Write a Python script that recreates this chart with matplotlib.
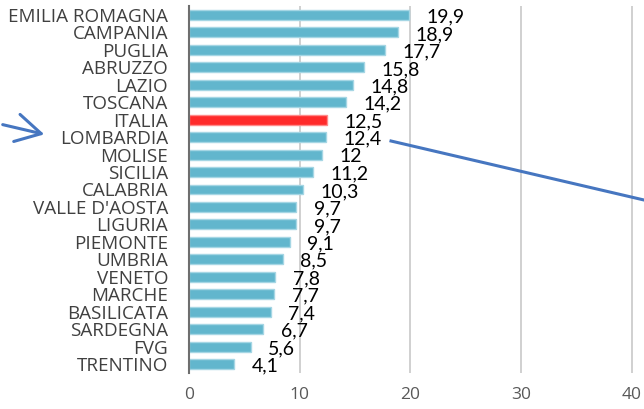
import matplotlib.pyplot as plt
from matplotlib.lines import Line2D
from matplotlib.patches import FancyArrowPatch

regions = ["EMILIA ROMAGNA", "CAMPANIA", "PUGLIA", "ABRUZZO", "LAZIO", "TOSCANA",
           "ITALIA", "LOMBARDIA", "MOLISE", "SICILIA", "CALABRIA", "VALLE D'AOSTA",
           "LIGURIA", "PIEMONTE", "UMBRIA", "VENETO", "MARCHE", "BASILICATA",
           "SARDEGNA", "FVG", "TRENTINO"]
values = [19.9, 18.9, 17.7, 15.8, 14.8, 14.2, 12.5, 12.4, 12, 11.2, 10.3, 9.7,
          9.7, 9.1, 8.5, 7.8, 7.7, 7.4, 6.7, 5.6, 4.1]
ticks = [0, 10, 20, 30, 40]

W, H = 644, 409
fig = plt.figure(figsize=(W / 100, H / 100), dpi=100)
ax = fig.add_axes([189 / W, 1 - 372.7 / H, 1 - 189 / W, (372.7 - 6.3) / H])

colors = ['#FF2A2A' if r == 'ITALIA' else '#62B6CD' for r in regions]
edges = ['#FF8A8A' if r == 'ITALIA' else '#A5D6E4' for r in regions]
ypos = list(range(len(regions)))
ax.barh(ypos, values, height=0.57, color=colors, edgecolor=edges, linewidth=1, zorder=3)
ax.set_ylim(len(regions) - 0.5, -0.5)
ax.set_xlim(0, 41.1)

for y, v in zip(ypos, values):
    txt = ('%g' % v).replace('.', ',')
    ax.annotate(txt, (v, y), xytext=(12.5, -1.5), textcoords='offset points',
                va='center', ha='left', fontsize=14, family='Lato', color='black',
                zorder=4)

ax.set_yticks(ypos)
ax.set_yticklabels(regions, family='Open Sans', fontsize=13.6, color='#404040')
ax.set_xticks(ticks)
ax.set_xticklabels([str(t) for t in ticks], family='Open Sans', fontsize=12.5, color='#595959')
ax.tick_params(axis='y', length=0, pad=15)
ax.tick_params(axis='x', length=0, pad=10)

ax.grid(axis='x', color='#C8C8C8', linewidth=1.2, zorder=0)
for s in ['top', 'right', 'bottom']:
    ax.spines[s].set_visible(False)
ax.spines['left'].set_color('#6E6E6E')
ax.spines['left'].set_linewidth(1.5)
ax.spines['left'].set_zorder(5)

# arrow pointing at LOMBARDIA
fig.patches.append(FancyArrowPatch(
    (0 / W, 1 - 124 / H), (47 / W, 1 - 135 / H), transform=fig.transFigure,
    arrowstyle='->,head_length=0.9,head_width=0.5', color='#4676C0', linewidth=2.2,
    mutation_scale=20))
fig.lines.append(Line2D([391 / W, 1.0], [1 - 141 / H, 1 - 200 / H],
                        transform=fig.transFigure, color='#4676C0', linewidth=2.2))

fig.savefig('out.png', dpi=100)
